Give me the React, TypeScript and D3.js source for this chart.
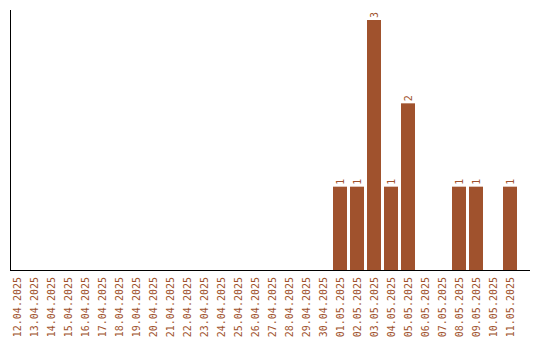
import React from "react";
import * as d3 from "d3";

const dates = [
  "12.04.2025","13.04.2025","14.04.2025","15.04.2025","16.04.2025","17.04.2025",
  "18.04.2025","19.04.2025","20.04.2025","21.04.2025","22.04.2025","23.04.2025",
  "24.04.2025","25.04.2025","26.04.2025","27.04.2025","28.04.2025","29.04.2025",
  "30.04.2025","01.05.2025","02.05.2025","03.05.2025","04.05.2025","05.05.2025",
  "06.05.2025","07.05.2025","08.05.2025","09.05.2025","10.05.2025","11.05.2025",
];
const counts = [
  0,0,0,0,0,0,0,0,0,0,0,0,0,0,0,0,0,0,0,
  1,1,3,1,2,0,0,1,1,0,1,
];

const W = 540, H = 340;
const COLOR = "#a0522d";
const FONT = "'DejaVu Sans Mono', monospace";

export default function App() {
  const x = d3.scaleBand<string>()
    .domain(dates)
    .range([8.5, 518.5])
    .paddingInner(3 / 17)
    .paddingOuter(1.5 / 17);
  const y = d3.scaleLinear().domain([0, 3]).range([270, 20]);
  const baseY = y(0);

  return (
    <svg width={W} height={H} style={{ position: "absolute", left: 0, top: 0, background: "#fff" }}>
      {dates.map((d, i) =>
        counts[i] > 0 ? (
          <g key={d}>
            <rect
              x={x(d)!}
              y={y(counts[i])}
              width={x.bandwidth()}
              height={baseY - y(counts[i])}
              fill={COLOR}
            />
            <text
              transform={`translate(${x(d)! + x.bandwidth() / 2 + 3.5},${y(counts[i]) - 2}) rotate(-90)`}
              fontFamily={FONT}
              fontSize={10}
              fill={COLOR}
              textAnchor="start"
            >
              {counts[i]}
            </text>
          </g>
        ) : null
      )}
      <line x1={10.5} x2={10.5} y1={10} y2={270} stroke="#000" strokeWidth={1} />
      <line x1={10} x2={530} y1={270.5} y2={270.5} stroke="#000" strokeWidth={1} />
      {dates.map((d) => (
        <text
          key={"l" + d}
          transform={`translate(${x(d)! + x.bandwidth() / 2 + 4},277) rotate(-90)`}
          fontFamily={FONT}
          fontSize={10}
          fill={COLOR}
          textAnchor="end"
        >
          {d}
        </text>
      ))}
    </svg>
  );
}
